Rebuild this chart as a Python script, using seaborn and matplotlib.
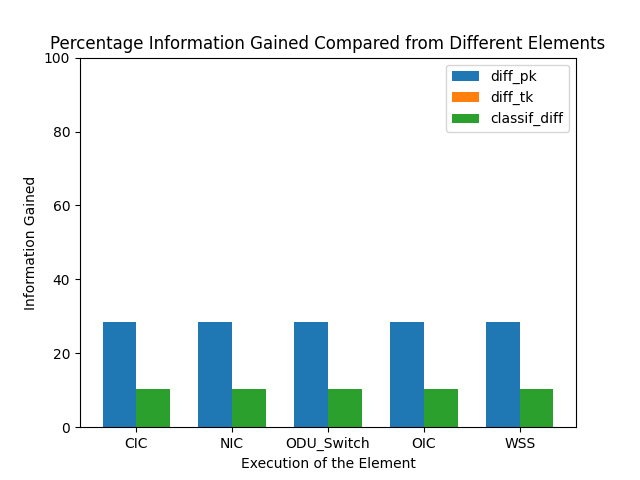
import pandas as pd
import numpy as np
import matplotlib
matplotlib.use('Agg')
import matplotlib.pyplot as plt
import seaborn as sns

# данные
elements = ['CIC', 'NIC', 'ODU_Switch', 'OIC', 'WSS']
diff_pk = [28.5, 28.5, 28.5, 28.5, 28.5]
diff_tk = [0, 0, 0, 0, 0]
classif_diff = [10.35, 10.35, 10.35, 10.35, 10.35]

series_names = ['diff_pk', 'diff_tk', 'classif_diff']
colors = {'diff_pk': '#1f77b4', 'diff_tk': '#ff7f0e', 'classif_diff': '#2ca02c'}

df = pd.DataFrame({
    'element': elements * 2,
    'series': ['diff_pk'] * 5 + ['classif_diff'] * 5,
    'value': diff_pk + classif_diff,
})
df_tk = pd.DataFrame({'element': elements, 'value': diff_tk})

fig, ax = plt.subplots(figsize=(6.4, 4.8), dpi=100)

sns.barplot(data=df, x='element', y='value', hue='series',
            hue_order=['diff_pk', 'classif_diff'],
            palette=[colors['diff_pk'], colors['classif_diff']],
            width=0.7, gap=0, saturation=1, errorbar=None,
            linewidth=0, ax=ax)
sns.barplot(data=df_tk, x='element', y='value', color=colors['diff_tk'],
            width=0.35, saturation=1, errorbar=None, linewidth=0,
            label='diff_tk', ax=ax)

# легенда в нужном порядке
handles, labels = ax.get_legend_handles_labels()
hmap = dict(zip(labels, handles))
ax.legend([hmap[n] for n in series_names], series_names, loc='upper right')

ax.set_xlim(-0.585, 4.585)
ax.set_ylim(0, 100)
ax.set_yticks(np.arange(0, 101, 20))
ax.set_xlabel('Execution of the Element')
ax.set_ylabel('Information Gained')
ax.set_title('Percentage Information Gained Compared from Different Elements')

plt.savefig('out.png')
